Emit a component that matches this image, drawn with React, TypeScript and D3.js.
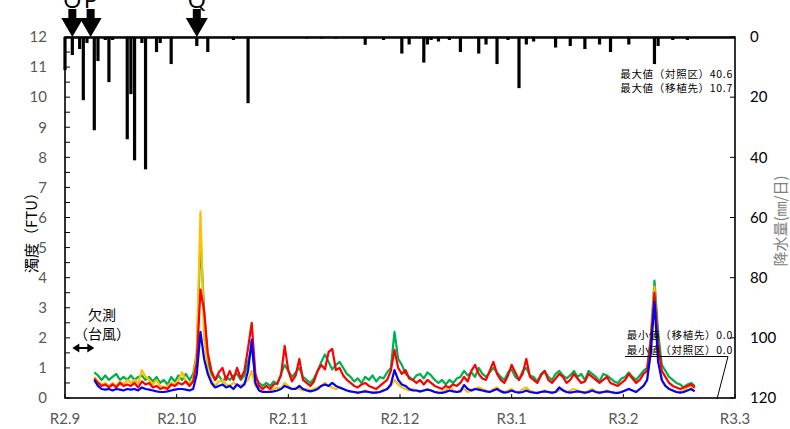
import React from "react";
import * as d3 from "d3";

// ---- data ----
const monthLabels = ["R2.9", "R2.10", "R2.11", "R2.12", "R3.1", "R3.2", "R3.3"];
const leftTicks = [0, 1, 2, 3, 4, 5, 6, 7, 8, 9, 10, 11, 12];
const rightTicks = [0, 20, 40, 60, 80, 100, 120];

const startDay = 8; // first observed day (days since 2020-09-01)

const green = [
  0.85, 0.75, 0.6, 0.75, 0.6, 0.7, 0.8, 0.6, 0.7, 0.6,
  0.75, 0.6, 0.7, 0.75, 0.6, 0.7, 0.55, 0.7, 0.5, 0.6,
  0.45, 0.7, 0.55, 0.75, 0.6, 0.8, 0.6, 0.8, 1.5, 5.3,
  2.9, 1.2, 0.8, 0.6, 0.75, 0.55, 0.7, 0.6, 0.75, 0.8,
  0.6, 0.75, 1.2, 1.7, 0.7, 0.5, 0.4, 0.5, 0.4, 0.55,
  0.45, 0.8, 1.1, 0.9, 0.7, 0.85, 1.0, 0.7, 0.6, 0.5,
  0.65, 0.9, 1.2, 1.45, 1.2, 0.95, 1.1, 1.2, 1.0, 0.8,
  0.7, 0.55, 0.65, 0.5, 0.7, 0.6, 0.75, 0.55, 0.7, 0.65,
  0.85, 1.0, 2.2, 1.3, 1.1, 0.8, 0.7, 0.6, 0.75, 0.8,
  0.65, 0.85, 0.75, 0.6, 0.5, 0.6, 0.45, 0.6, 0.5, 0.65,
  0.7, 0.9, 0.75, 0.85, 0.7, 1.0, 0.8, 0.7, 0.85, 1.0,
  0.85, 0.7, 0.6, 0.85, 0.95, 0.7, 0.6, 0.9, 1.0, 0.75,
  0.7, 0.55, 0.8, 0.9, 0.7, 0.6, 0.8, 0.9, 0.75, 0.65,
  0.75, 0.9, 0.7, 0.8, 0.6, 0.9, 0.8, 0.7, 0.55, 0.8,
  0.75, 0.65, 0.55, 0.5, 0.65, 0.7, 0.85, 0.7, 0.6, 0.75,
  0.9, 1.0, 2.0, 3.9, 2.2, 1.1, 0.9, 0.7, 0.6, 0.5,
  0.45, 0.35, 0.45, 0.5, 0.4,
];
const yellow = [
  0.7, 0.55, 0.45, 0.5, 0.4, 0.5, 0.4, 0.55, 0.45, 0.6,
  0.5, 0.6, 0.5, 0.93, 0.7, 0.6, 0.45, 0.6, 0.4, 0.35,
  0.4, 0.5, 0.45, 0.6, 0.86, 0.55, 0.5, 0.6, 1.5, 6.2,
  2.0, 0.9, 0.6, 0.4, 0.55, 0.6, 0.45, 0.4, 0.5, 0.45,
  0.4, 0.5, 0.6, 0.9, 0.4, 0.3, 0.25, 0.2, 0.25, 0.3,
  0.35, 0.3, 0.5, 0.4, 0.3, 0.35, 0.3, 0.25, 0.3, 0.25,
  0.3, 0.35, 0.4, 0.5, 0.4, 0.35, 0.3, 0.35, 0.3, 0.25,
  0.2, 0.2, 0.15, 0.2, 0.25, 0.2, 0.15, 0.2, 0.2, 0.25,
  0.3, 0.4, 0.6, 0.45, 0.35, 0.3, 0.25, 0.3, 0.25, 0.2,
  0.25, 0.3, 0.25, 0.2, 0.15, 0.2, 0.25, 0.37, 0.25, 0.2,
  0.25, 0.3, 0.2, 0.25, 0.3, 0.35, 0.3, 0.25, 0.2, 0.3,
  0.35, 0.25, 0.2, 0.25, 0.3, 0.2, 0.2, 0.3, 0.35, 0.25,
  0.2, 0.15, 0.2, 0.25, 0.2, 0.15, 0.2, 0.25, 0.3, 0.2,
  0.25, 0.3, 0.25, 0.2, 0.15, 0.25, 0.3, 0.2, 0.15, 0.2,
  0.25, 0.2, 0.15, 0.15, 0.2, 0.25, 0.3, 0.25, 0.2, 0.3,
  0.4, 0.6, 1.8, 3.7, 1.5, 0.6, 0.4, 0.3, 0.25, 0.2,
  0.2, 0.25, 0.35, 0.4, 0.3,
];
const red = [
  0.65, 0.5, 0.4, 0.45, 0.35, 0.45, 0.35, 0.5, 0.4, 0.45,
  0.4, 0.5, 0.35, 0.55, 0.45, 0.5, 0.35, 0.4, 0.3, 0.35,
  0.3, 0.45, 0.4, 0.5, 0.45, 0.55, 0.4, 0.55, 1.2, 3.6,
  2.9, 1.5, 0.9, 0.6, 0.85, 1.0, 0.6, 0.9, 0.6, 1.0,
  0.65, 0.9, 1.66, 2.5, 0.8, 0.4, 0.3, 0.4, 0.3, 0.45,
  0.5, 0.75, 1.73, 0.9, 0.55, 0.75, 1.3, 0.6, 0.5, 0.4,
  0.55, 0.9, 1.1, 0.95, 1.53, 1.63, 0.93, 1.0, 0.75, 0.6,
  0.5, 0.4, 0.35, 0.45, 0.5, 0.4, 0.35, 0.3, 0.4, 0.5,
  0.6, 0.9, 1.6, 1.0, 0.8, 0.93, 0.65, 0.6, 0.5, 0.6,
  0.45, 0.6, 0.5, 0.4, 0.35, 0.3, 0.4, 0.35, 0.45, 0.4,
  0.5, 0.7, 0.55, 0.9, 1.1, 0.8, 0.65, 0.6, 0.9, 1.2,
  0.8, 0.6, 0.5, 0.75, 1.1, 0.85, 0.6, 0.8, 1.3, 0.7,
  0.6, 0.5, 0.75, 0.9, 0.6, 0.5, 0.65, 0.8, 0.7, 0.5,
  0.6, 0.8, 0.65, 0.5, 0.55, 0.8, 0.7, 0.6, 0.5, 0.6,
  0.7, 0.5, 0.45, 0.4, 0.5, 0.6, 0.8, 0.65, 0.5, 0.6,
  0.8, 0.9, 1.9, 3.5, 1.8, 0.9, 0.7, 0.5, 0.4, 0.35,
  0.3, 0.35, 0.4, 0.45, 0.35,
];
const blue = [
  0.6, 0.4, 0.3, 0.28, 0.3, 0.25, 0.3, 0.28, 0.25, 0.3,
  0.28, 0.3, 0.25, 0.35, 0.3, 0.28, 0.25, 0.22, 0.2, 0.2,
  0.22, 0.25, 0.28, 0.3, 0.3, 0.28, 0.25, 0.3, 0.8, 2.2,
  1.3, 0.8, 0.5, 0.35, 0.4, 0.45, 0.35, 0.4, 0.3, 0.45,
  0.35, 0.45, 0.9, 1.93, 0.5, 0.25, 0.2, 0.2, 0.2, 0.22,
  0.25, 0.3, 0.4, 0.35, 0.3, 0.3, 0.4, 0.3, 0.25, 0.22,
  0.25, 0.3, 0.4, 0.45, 0.4, 0.5, 0.4, 0.35, 0.3, 0.25,
  0.22, 0.2, 0.18, 0.2, 0.22, 0.2, 0.18, 0.18, 0.2, 0.25,
  0.3, 0.45, 0.93, 0.6, 0.45, 0.4, 0.3, 0.25, 0.25, 0.22,
  0.25, 0.28, 0.25, 0.2, 0.18, 0.17, 0.2, 0.25, 0.22, 0.2,
  0.22, 0.43, 0.3, 0.25, 0.3, 0.28, 0.25, 0.22, 0.2, 0.25,
  0.3, 0.22, 0.18, 0.2, 0.25, 0.2, 0.18, 0.2, 0.25, 0.2,
  0.18, 0.17, 0.2, 0.22, 0.2, 0.18, 0.2, 0.35, 0.25, 0.2,
  0.18, 0.2, 0.22, 0.2, 0.18, 0.2, 0.25, 0.2, 0.18, 0.2,
  0.22, 0.2, 0.18, 0.17, 0.2, 0.25, 0.3, 0.25, 0.2, 0.3,
  0.4, 0.6, 1.5, 3.2, 1.2, 0.6, 0.4, 0.3, 0.25, 0.2,
  0.18, 0.2, 0.25, 0.3, 0.22,
];

// daily rainfall (mm/day)
const rainDays = [
  0, 2, 4, 5, 6, 8, 9, 11, 12, 13, 17, 18, 19, 21, 22, 25, 26, 29, 36, 39, 46, 50,
  66, 70, 74, 82, 87, 92, 94, 98, 99, 100, 102, 105, 108, 113, 115, 118, 121, 124,
  126, 128, 134, 138, 142, 146, 149, 154, 161, 162, 166, 170,
];
const rainMM = [
  11, 6, 4, 21, 2, 31, 8, 1, 15, 1, 34, 19, 41, 2, 44, 5, 2, 9, 3, 5, 1, 22,
  0.5, 0.5, 0.5, 2.6, 1, 5.5, 2.5, 8.5, 2.5, 1, 1.5, 1, 5, 5.5, 2.5, 9, 1, 17,
  2.5, 1.5, 3.5, 3, 4, 2.5, 5, 2.5, 9, 3, 1, 1,
];

const markerLabels = ["O", "P", "Q"];
const markerDays = [2, 7, 36];

const seriesColors = ["#00B050", "#FFC000", "#FF0000", "#0000FF"];

export default function App() {
  const W = 790, H = 429;
  const x = d3.scaleLinear().domain([0, 183]).range([65, 735]);
  const yL = d3.scaleLinear().domain([0, 12]).range([398, 37]);
  const yR = d3.scaleLinear().domain([0, 120]).range([37, 398]);
  const monthTicks = d3.range(monthLabels.length).map((i) => (183 * i) / (monthLabels.length - 1));
  const minorLeft = d3.range(0, 12.01, 0.5);

  const line = d3
    .line<number>()
    .x((_, i) => x(startDay + i))
    .y((v) => yL(v));

  const series = [green, yellow, red, blue];
  const latin = "Lato, 'Open Sans', sans-serif";
  const cjk = "'Noto Sans CJK JP', sans-serif";

  return (
    <svg width={W} height={H} style={{ position: "absolute", left: 0, top: 0, background: "#fff" }}>
      {/* turbidity series */}
      {series.map((s, k) => (
        <path key={k} d={line(s) || ""} fill="none" stroke={seriesColors[k]} strokeWidth={2.2} strokeLinejoin="round" />
      ))}

      {/* rainfall bars hanging from the top */}
      {rainDays.map((d, i) => (
        <rect key={i} x={x(d) - 1.6} y={yR(0)} width={3.2} height={yR(rainMM[i]) - yR(0)} fill="#000" />
      ))}

      {/* frame */}
      <rect x={x(0)} y={yL(12)} width={x(183) - x(0)} height={yL(0) - yL(12)} fill="none" stroke="#000" strokeWidth={1.6} />
      <line x1={x(0)} x2={x(183)} y1={yL(12) + 1} y2={yL(12) + 1} stroke="#000" strokeWidth={1.5} />

      {/* left ticks */}
      {minorLeft.map((v) => (
        <line key={v} x1={x(0)} x2={x(0) + 5} y1={yL(v)} y2={yL(v)} stroke="#000" strokeWidth={1} />
      ))}
      {leftTicks.map((v) => (
        <text key={v} x={47} y={yL(v)} dy="0.35em" textAnchor="end" fontSize={15} fill="#595959" fontFamily={latin}>
          {v}
        </text>
      ))}
      {/* right ticks */}
      {rightTicks.map((v) => (
        <g key={v}>
          <line x1={x(183) - 5} x2={x(183)} y1={yR(v)} y2={yR(v)} stroke="#000" strokeWidth={1} />
          <text x={750} y={yR(v)} dy="0.35em" textAnchor="start" fontSize={15} fill="#000" fontFamily={latin}>
            {v}
          </text>
        </g>
      ))}
      {/* bottom ticks */}
      {monthTicks.map((d, i) => (
        <g key={i}>
          <line x1={x(d)} x2={x(d)} y1={yL(0)} y2={yL(0) - 4} stroke="#000" strokeWidth={1} />
          <text x={x(d)} y={424} textAnchor="middle" fontSize={15} fill="#595959" fontFamily={latin}>
            {monthLabels[i]}
          </text>
        </g>
      ))}

      {/* axis titles */}
      <text transform="translate(37,229) rotate(-90)" textAnchor="middle" fontSize={15} fill="#000" fontFamily={cjk}>
        濁度（FTU）
      </text>
      <text transform="translate(786,221) rotate(-90)" textAnchor="middle" fontSize={15} fill="#808080" fontFamily={cjk}>
        降水量(㎜/日)
      </text>

      {/* event arrows */}
      {markerDays.map((d, i) => {
        const cx = x(d);
        return (
          <g key={i}>
            <rect x={cx - 4} y={9} width={8} height={10} fill="#000" />
            <path d={`M${cx - 11},18 L${cx + 11},18 L${cx},37 Z`} fill="#000" />
            <text x={cx} y={8} textAnchor="middle" fontSize={22} fill="#000" fontFamily={latin}>
              {markerLabels[i]}
            </text>
          </g>
        );
      })}

      {/* missing-data annotation */}
      <text x={102} y={320} textAnchor="middle" fontSize={14} fill="#000" fontFamily={cjk}>欠測</text>
      <text x={102} y={339} textAnchor="middle" fontSize={14} fill="#000" fontFamily={cjk}>（台風）</text>
      <line x1={x(2) + 4} x2={x(8) - 4} y1={348} y2={348} stroke="#000" strokeWidth={2} />
      <path d={`M${x(2)},348 L${x(2) + 7},343.5 L${x(2) + 7},352.5 Z`} fill="#000" />
      <path d={`M${x(8)},348 L${x(8) - 7},343.5 L${x(8) - 7},352.5 Z`} fill="#000" />

      {/* max / min annotations */}
      <g fontFamily={cjk} fontSize={10.5} fill="#000" textAnchor="end" letterSpacing={0.7}>
        <text x={733} y={78}>最大値（対照区）40.6</text>
        <text x={733} y={92}>最大値（移植先）10.7</text>
        <text x={733} y={339}>最小値（移植先）0.0</text>
        <text x={733} y={354}>最小値（対照区）0.0</text>
      </g>
      <polyline points={`625,356.5 728,356.5 717,399`} fill="none" stroke="#000" strokeWidth={1} />
    </svg>
  );
}
